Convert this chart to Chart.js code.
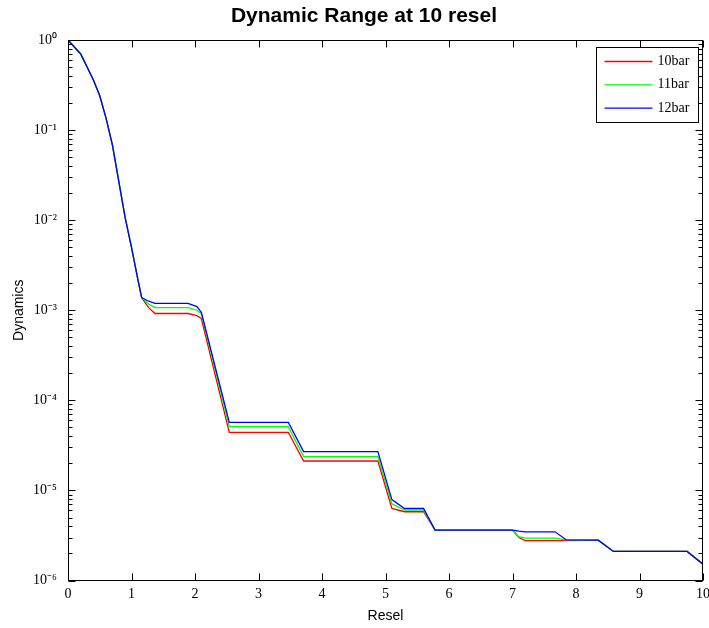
<!DOCTYPE html>
<html>
<head>
<meta charset="utf-8">
<title>Dynamic Range at 10 resel</title>
<script src="https://cdn.jsdelivr.net/npm/chart.js@4.4.1/dist/chart.umd.min.js"></script>
<style>
  body { margin: 0; background: #fff; }
  #wrap { width: 709px; height: 628px; }
</style>
</head>
<body>
<div id="wrap"><canvas id="chart" width="709" height="628"></canvas></div>
<script>
// resel positions shared by all three curves
var resel = [0, 0.2, 0.4, 0.5, 0.6, 0.7, 0.8, 0.9, 1.0, 1.1, 1.16, 1.27, 1.37, 1.89, 2.03, 2.1, 2.54,
             3.47, 3.71, 4.88, 5.1, 5.3, 5.6, 5.78, 7.0, 7.1, 7.2, 7.67, 7.85, 8.35, 8.59, 9.75, 10]

var bar10 = [1, 0.70, 0.36, 0.24, 0.135, 0.068, 0.027, 0.0107, 0.0050, 0.0022, 0.00138, 1.07e-3, 9.2e-4,
             9.2e-4, 8.7e-4, 8.1e-4, 4.4e-5, 4.4e-5, 2.12e-5, 2.12e-5, 6.3e-6, 5.8e-6, 5.8e-6, 3.63e-6,
             3.63e-6, 3.0e-6, 2.77e-6, 2.77e-6, 2.78e-6, 2.8e-6, 2.1e-6, 2.1e-6, 1.52e-6]
var bar11 = [1, 0.70, 0.36, 0.24, 0.135, 0.068, 0.027, 0.0107, 0.0050, 0.0022, 0.00138, 1.17e-3, 1.07e-3,
             1.07e-3, 1.0e-3, 9.1e-4, 5.1e-5, 5.1e-5, 2.37e-5, 2.37e-5, 7.1e-6, 6.05e-6, 6.05e-6, 3.63e-6,
             3.63e-6, 3.07e-6, 2.95e-6, 2.95e-6, 2.82e-6, 2.8e-6, 2.1e-6, 2.1e-6, 1.52e-6]
var bar12 = [1, 0.70, 0.36, 0.24, 0.135, 0.068, 0.027, 0.0107, 0.0050, 0.0022, 0.00138, 1.26e-3, 1.19e-3,
             1.19e-3, 1.10e-3, 9.5e-4, 5.7e-5, 5.7e-5, 2.7e-5, 2.7e-5, 7.9e-6, 6.3e-6, 6.3e-6, 3.63e-6,
             3.63e-6, 3.53e-6, 3.47e-6, 3.47e-6, 2.82e-6, 2.8e-6, 2.1e-6, 2.1e-6, 1.52e-6]

var seriesNames = ['10bar', '11bar', '12bar']
var seriesColors = ['#ff0000', '#00ff00', '#0000ff']

var reselTicks = [0, 1, 2, 3, 4, 5, 6, 7, 8, 9, 10]
var reselTickLabels = ['0', '1', '2', '3', '4', '5', '6', '7', '8', '9', '10']
var dynTicks = [1, 1e-1, 1e-2, 1e-3, 1e-4, 1e-5, 1e-6]
var dynTickLabels = ['10\u2070', '10\u207b\u00b9', '10\u207b\u00b2', '10\u207b\u00b3', '10\u207b\u2074', '10\u207b\u2075', '10\u207b\u2076']

function points(values) {
    return resel.map(function (r, i) { return {x: r, y: values[i]} })
}

// box round the axes with inward ticks on all four sides
var axesBox = {
    id: 'axesBox',
    afterDatasetsDraw: function (chart) {
        var ctx = chart.ctx, a = chart.chartArea
        var xs = chart.scales.x, ys = chart.scales.y
        var l = Math.round(a.left) + 0.5, r = Math.round(a.right) - 0.5
        var t = Math.round(a.top) + 0.5, b = Math.round(a.bottom) - 0.5
        ctx.save()
        ctx.strokeStyle = '#000'
        ctx.lineWidth = 1
        ctx.beginPath()
        reselTicks.forEach(function (v) {
            var px = Math.round(xs.getPixelForValue(v)) + 0.5
            ctx.moveTo(px, b); ctx.lineTo(px, b - 7)
            ctx.moveTo(px, t); ctx.lineTo(px, t + 7)
        })
        for (var e = -6; e <= 0; e++) {
            for (var m = 1; m <= 9; m++) {
                var v = m * Math.pow(10, e)
                if (v > 1) break
                var py = Math.round(ys.getPixelForValue(v)) + 0.5
                var len = m == 1 ? 7 : 4
                ctx.moveTo(l, py); ctx.lineTo(l + len, py)
                ctx.moveTo(r, py); ctx.lineTo(r - len, py)
            }
        }
        ctx.stroke()
        ctx.strokeRect(l, t, r - l, b - t)
        ctx.restore()
    }
}

// legend box in the top right corner of the axes
var boxLegend = {
    id: 'boxLegend',
    afterDraw: function (chart) {
        var ctx = chart.ctx, a = chart.chartArea
        var w = 102, h = 75
        var x0 = Math.round(a.right) - 5 - w + 0.5, y0 = Math.round(a.top) + 7 + 0.5
        ctx.save()
        ctx.fillStyle = '#fff'
        ctx.fillRect(x0, y0, w, h)
        ctx.strokeStyle = '#000'
        ctx.lineWidth = 1
        ctx.strokeRect(x0, y0, w, h)
        ctx.font = '14px "Liberation Serif"'
        ctx.textBaseline = 'middle'
        ctx.textAlign = 'left'
        seriesNames.forEach(function (name, i) {
            var yy = y0 + 14 + i * 23.3
            ctx.strokeStyle = seriesColors[i]
            ctx.lineWidth = 1.3
            ctx.beginPath()
            ctx.moveTo(x0 + 8, yy); ctx.lineTo(x0 + 56, yy)
            ctx.stroke()
            ctx.fillStyle = '#000'
            ctx.fillText(name, x0 + 61, yy)
        })
        ctx.restore()
    }
}

Chart.defaults.color = '#000'
Chart.defaults.font.family = '"Liberation Serif"'

var ctx = document.getElementById('chart').getContext('2d')
var chart = new Chart(ctx, {
    type: 'line',
    data: {
        datasets: [bar10, bar11, bar12].map(function (vals, i) {
            return {
                label: seriesNames[i],
                data: points(vals),
                borderColor: seriesColors[i],
                backgroundColor: seriesColors[i],
                borderWidth: 1.3,
                pointRadius: 0,
                tension: 0,
                fill: false,
                order: 2 - i
            }
        })
    },
    options: {
        responsive: false,
        animation: false,
        devicePixelRatio: 1,
        layout: { padding: { left: 25, right: 6, top: 0, bottom: 0 } },
        plugins: {
            legend: { display: false },
            tooltip: { enabled: false },
            title: {
                display: true,
                text: 'Dynamic Range at 10 resel',
                font: { family: '"Liberation Sans"', size: 21, weight: 'bold' },
                color: '#000',
                padding: { top: 4, bottom: 10.8 }
            }
        },
        scales: {
            x: {
                type: 'linear',
                min: 0,
                max: 10,
                grid: { display: false },
                border: { display: false },
                afterBuildTicks: function (axis) {
                    axis.ticks = reselTicks.map(function (v) { return {value: v} })
                },
                afterFit: function (axis) { axis.height = 47.5 },
                ticks: {
                    autoSkip: false,
                    maxRotation: 0,
                    padding: -3,
                    font: { size: 14 },
                    callback: function (v, i) { return reselTickLabels[i] }
                },
                title: {
                    display: true,
                    text: 'Resel',
                    font: { family: '"Liberation Sans"', size: 14 },
                    padding: { top: 0, bottom: 3 }
                }
            },
            y: {
                type: 'logarithmic',
                min: 1e-6,
                max: 1,
                grid: { display: false },
                border: { display: false },
                afterBuildTicks: function (axis) {
                    axis.ticks = dynTicks.map(function (v) { return {value: v} })
                },
                afterFit: function (axis) { axis.width = 43 },
                ticks: {
                    autoSkip: false,
                    padding: 3,
                    font: { size: 14 },
                    callback: function (v, i) { return dynTickLabels[i] }
                },
                title: {
                    display: true,
                    text: 'Dynamics',
                    font: { family: '"Liberation Sans"', size: 14 },
                    padding: { top: -14.4, bottom: 0 }
                }
            }
        }
    },
    plugins: [axesBox, boxLegend]
})
</script>
</body>
</html>
